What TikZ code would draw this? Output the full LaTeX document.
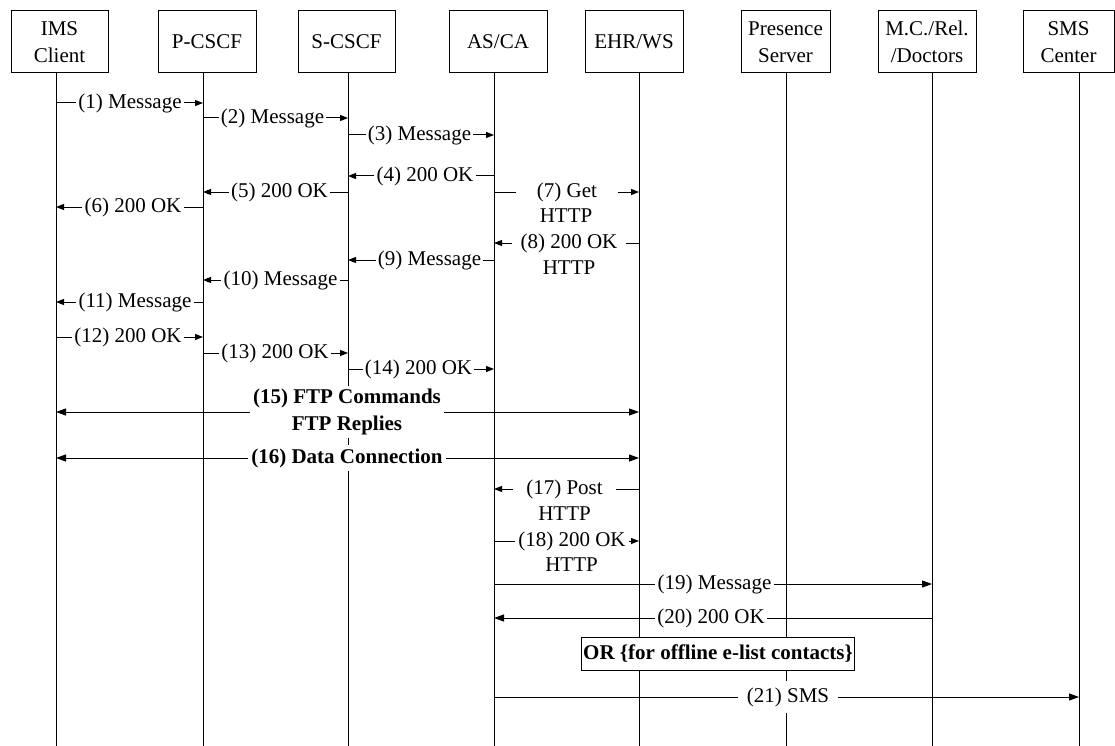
\documentclass[tikz,border=0pt]{standalone}
\usepackage{fontspec}
\setmainfont{Liberation Serif}
\usetikzlibrary{arrows.meta}
\begin{document}
\begin{tikzpicture}[x=1pt,y=-1pt,
  every node/.style={font=\fontsize{21}{27}\selectfont},
  boldtext/.style={font=\fontsize{21}{27}\selectfont\bfseries},
  hdr/.style={draw, fill=white, line width=1pt, minimum height=62pt, align=center, inner sep=0pt},
  life/.style={line width=1pt},
  msg/.style={fill=white, inner sep=2pt},
  sub/.style={fill=white, inner sep=1pt},
  conn/.style={line width=1pt},
  tip/.style={conn, -{Triangle[length=8pt,width=6pt]}},
  bigtip/.style={conn, -{Triangle[length=10pt,width=7pt]}},
  bigtips/.style={conn, {Triangle[length=10pt,width=7pt]}-{Triangle[length=10pt,width=7pt]}},
  orbox/.style={draw, fill=white, line width=1pt, inner xsep=2pt, minimum height=33pt}
]
\useasboundingbox (0,0) rectangle (1115,746);
\fill[white] (0,0) rectangle (1115,746);

% lifelines
\coordinate (L1) at (56,73);   \coordinate (E1) at (56,746);
\coordinate (L2) at (203,73);  \coordinate (E2) at (203,746);
\coordinate (L3) at (348,73);  \coordinate (E3) at (348,746);
\coordinate (L4) at (494,73);  \coordinate (E4) at (494,746);
\coordinate (L5) at (639,73);  \coordinate (E5) at (639,746);
\coordinate (L6) at (786,73);  \coordinate (E6) at (786,746);
\coordinate (L7) at (932,73);  \coordinate (E7) at (932,746);
\coordinate (L8) at (1079,73); \coordinate (E8) at (1079,746);
\foreach \i in {1,...,8} { \draw[life] (L\i) -- (E\i); }

% header boxes
\node[hdr, minimum width=97pt] (ims)   at (59.5,42)   {IMS\\Client};
\node[hdr, minimum width=98pt] (pcscf) at (207,42)    {P-CSCF};
\node[hdr, minimum width=97pt] (scscf) at (346.5,42)  {S-CSCF};
\node[hdr, minimum width=98pt] (asca)  at (498,42)    {AS/CA};
\node[hdr, minimum width=98pt] (ehr)   at (634,42)    {EHR/WS};
\node[hdr, minimum width=89pt] (pres)  at (785.5,42)  {Presence\\Server};
\node[hdr, minimum width=98pt] (mc)    at (927,42)    {M.C./Rel.\\/Doctors};
\node[hdr, minimum width=91pt] (smsc)  at (1068.5,42) {SMS\\Center};

% (1)
\node[msg] (m1) at (130,103) {(1) Message};
\draw[conn] (L1 |- m1) -- (m1.west);
\draw[tip] (m1.east) -- (L2 |- m1);
% (2)
\node[msg] (m2) at (272.5,118) {(2) Message};
\draw[conn] (L2 |- m2) -- (m2.west);
\draw[tip] (m2.east) -- (L3 |- m2);
% (3)
\node[msg] (m3) at (419.5,135) {(3) Message};
\draw[conn] (L3 |- m3) -- (m3.west);
\draw[tip] (m3.east) -- (L4 |- m3);
% (4)
\node[msg] (m4) at (425,176) {(4) 200 OK};
\draw[conn] (L4 |- m4) -- (m4.east);
\draw[tip] (m4.west) -- (L3 |- m4);
% (5)
\node[msg] (m5) at (279.5,192) {(5) 200 OK};
\draw[conn] (L3 |- m5) -- (m5.east);
\draw[tip] (m5.west) -- (L2 |- m5);
% (6)
\node[msg] (m6) at (133,207) {(6) 200 OK};
\draw[conn] (L2 |- m6) -- (m6.east);
\draw[tip] (m6.west) -- (L1 |- m6);
% (7)
\node[msg, inner xsep=21pt] (m7) at (567,192) {(7) Get};
\node[sub] (m7b) at (566,216) {HTTP};
\draw[conn] (L4 |- m7) -- (m7.west);
\draw[tip] (m7.east) -- (L5 |- m7);
% (8)
\node[msg, inner xsep=8pt] (m8) at (569,243) {(8) 200 OK};
\node[sub] (m8b) at (569,268) {HTTP};
\draw[conn] (L5 |- m8) -- (m8.east);
\draw[tip] (m8.west) -- (L4 |- m8);
% (9)
\node[msg] (m9) at (429.5,260) {(9) Message};
\draw[conn] (L4 |- m9) -- (m9.east);
\draw[tip] (m9.west) -- (L3 |- m9);
% (10)
\node[msg] (m10) at (280.5,280) {(10) Message};
\draw[conn] (L3 |- m10) -- (m10.east);
\draw[tip] (m10.west) -- (L2 |- m10);
% (11)
\node[msg] (m11) at (135,302) {(11) Message};
\draw[conn] (L2 |- m11) -- (m11.east);
\draw[tip] (m11.west) -- (L1 |- m11);
% (12)
\node[msg] (m12) at (128,337) {(12) 200 OK};
\draw[conn] (L1 |- m12) -- (m12.west);
\draw[tip] (m12.east) -- (L2 |- m12);
% (13)
\node[msg] (m13) at (275,353) {(13) 200 OK};
\draw[conn] (L2 |- m13) -- (m13.west);
\draw[tip] (m13.east) -- (L3 |- m13);
% (14)
\node[msg] (m14) at (418.5,369) {(14) 200 OK};
\draw[conn] (L3 |- m14) -- (m14.west);
\draw[tip] (m14.east) -- (L4 |- m14);
% (15)
\node[msg, boldtext, align=center, inner sep=3pt] (m15) at (347,412) {(15) FTP Commands\\FTP Replies};
\draw[conn, {Triangle[length=10pt,width=7pt]}-] (L1 |- m15) -- (m15.west);
\draw[bigtip] (m15.east) -- (L5 |- m15);
% (16)
\node[msg, boldtext, inner sep=3pt] (m16) at (347,458) {(16) Data Connection};
\draw[conn, {Triangle[length=10pt,width=7pt]}-] (L1 |- m16) -- (m16.west);
\draw[bigtip] (m16.east) -- (L5 |- m16);
% (17)
\node[msg, inner xsep=13pt] (m17) at (564.5,489) {(17) Post};
\node[sub] (m17b) at (564.5,514) {HTTP};
\draw[conn] (L5 |- m17) -- (m17.east);
\draw[tip] (m17.west) -- (L4 |- m17);
% (18)
\node[msg, inner xsep=3pt] (m18) at (572,541) {(18) 200 OK};
\node[sub] (m18b) at (571.5,565) {HTTP};
\draw[conn] (L4 |- m18) -- (m18.west);
\draw[tip] (m18.east) -- (L5 |- m18);
% (19)
\node[msg] (m19) at (714.5,584) {(19) Message};
\draw[conn] (L4 |- m19) -- (m19.west);
\draw[bigtip] (m19.east) -- (L7 |- m19);
% (20)
\node[msg] (m20) at (711,618) {(20) 200 OK};
\draw[conn] (L7 |- m20) -- (m20.east);
\draw[bigtip] (m20.west) -- (L4 |- m20);
% OR box
\node[orbox, boldtext] (orb) at (718,653.5) {OR \{for offline e-list contacts\}};
% (21)
\node[msg, inner xsep=9pt, inner ysep=6pt] (m21) at (788,697) {(21) SMS};
\draw[conn] (L4 |- m21) -- (m21.west);
\draw[bigtip] (m21.east) -- (L8 |- m21);
\end{tikzpicture}
\end{document}
